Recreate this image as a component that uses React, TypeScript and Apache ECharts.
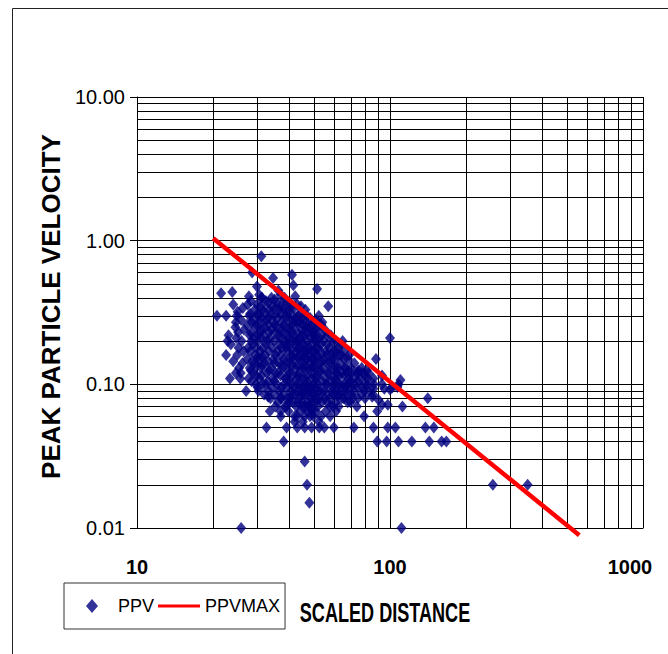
import React, { useEffect, useRef } from "react";
import * as echarts from "echarts";

// Minor gridline positions (log axes, 2..9 per decade)
const X_MINOR = [20, 30, 40, 50, 60, 70, 80, 90, 200, 300, 400, 500, 600, 700, 800, 900];
const Y_MINOR = [
  0.02, 0.03, 0.04, 0.05, 0.06, 0.07, 0.08, 0.09,
  0.2, 0.3, 0.4, 0.5, 0.6, 0.7, 0.8, 0.9,
  2, 3, 4, 5, 6, 7, 8, 9,
];

const SERIES_NAMES = ["PPV", "PPVMAX"];

// PPVMAX line: [scaled distance, ppv]
const PPVMAX_LINE: [number, number][] = [
  [20, 1.04],
  [560, 0.0089],
];

// PPV observations: [scaled distance, ppv]
const PPV_POINTS: [number, number][] = [
  [20.7, 0.30], [21.5, 0.43], [23.8, 0.44], [22.5, 0.30], [22.5, 0.16], [24, 0.145], [23.3, 0.11], [25.6, 0.11], [27, 0.09], [25.8, 0.01],
  [31, 0.78], [28.5, 0.60], [34.5, 0.55], [41, 0.58], [41.5, 0.49], [51.5, 0.46], [57, 0.35], [44.5, 0.35], [54, 0.27], [27.7, 0.41],
  [29.8, 0.48], [31, 0.40], [34, 0.40], [24, 0.36], [25, 0.32], [23, 0.22], [23.5, 0.19], [24.5, 0.25], [22.8, 0.20],
  [50, 0.23], [65, 0.20], [61, 0.20], [64, 0.19], [66, 0.17], [69, 0.16], [88, 0.15], [100, 0.21], [67, 0.13], [61, 0.13],
  [74, 0.12], [78, 0.12], [75, 0.125], [81, 0.125], [82, 0.11], [93, 0.115], [93, 0.10], [108, 0.10], [100, 0.092], [107, 0.096],
  [110, 0.107], [102, 0.095], [95, 0.093], [86, 0.093], [85, 0.082], [90, 0.078], [67, 0.095], [62, 0.083],
  [112, 0.07], [98, 0.072], [93, 0.072], [89, 0.065], [79, 0.06], [74, 0.07], [68, 0.075], [61, 0.075], [58, 0.07], [58, 0.06],
  [141, 0.08], [60, 0.05], [72, 0.05], [86, 0.05], [98, 0.05], [105, 0.05], [138, 0.05], [149, 0.05],
  [89, 0.04], [97, 0.04], [108, 0.04], [122, 0.04], [143, 0.04], [160, 0.04], [167, 0.04],
  [255, 0.02], [350, 0.02], [111, 0.01],
  [46, 0.029], [47, 0.02], [48, 0.015], [38, 0.04],
  [32.5, 0.05], [33, 0.082], [33.5, 0.065], [37, 0.06], [39, 0.05], [43, 0.05], [42, 0.055], [46, 0.05], [49, 0.05], [52.5, 0.05],
  [55, 0.05], [49, 0.068], [45, 0.075], [40, 0.075], [37, 0.08],
  [26.2, 0.34], [25.8, 0.28], [26.5, 0.24], [25.9, 0.20], [26.4, 0.17], [26.1, 0.14], [25.7, 0.12],
  [27.4, 0.36], [27.8, 0.30], [27.2, 0.26], [27.9, 0.22], [27.5, 0.18], [27.3, 0.15], [27.9, 0.13], [27.6, 0.11],
  [29.2, 0.33], [28.8, 0.28], [29.4, 0.25], [29.0, 0.21], [28.7, 0.19], [29.3, 0.16], [29.1, 0.14], [28.9, 0.12], [29.5, 0.10],
  [30.4, 0.42], [30.8, 0.35], [30.2, 0.30], [30.9, 0.27], [30.5, 0.23], [30.1, 0.20], [30.7, 0.17], [30.3, 0.15], [30.9, 0.13], [30.5, 0.11], [30.2, 0.09],
  [32.3, 0.38], [31.8, 0.32], [32.5, 0.28], [32.0, 0.25], [31.7, 0.22], [32.4, 0.19], [32.1, 0.16], [31.9, 0.14], [32.6, 0.12], [32.2, 0.10], [31.8, 0.085],
  [34.2, 0.35], [33.8, 0.31], [34.5, 0.27], [34.0, 0.24], [33.6, 0.21], [34.3, 0.18], [34.6, 0.15], [33.9, 0.13], [34.4, 0.11], [34.1, 0.095], [33.7, 0.08],
  [36.2, 0.45], [35.8, 0.37], [36.5, 0.33], [36.0, 0.29], [35.6, 0.25], [36.3, 0.22], [36.6, 0.19], [35.9, 0.17], [36.4, 0.14], [36.1, 0.12], [35.7, 0.10], [36.5, 0.09], [36.0, 0.075],
  [38.3, 0.40], [37.8, 0.34], [38.6, 0.30], [38.0, 0.26], [37.6, 0.23], [38.4, 0.20], [38.7, 0.18], [38.1, 0.15], [37.7, 0.13], [38.5, 0.11], [38.2, 0.10], [37.9, 0.085], [38.4, 0.07],
  [40.3, 0.37], [39.7, 0.32], [40.5, 0.28], [40.0, 0.24], [39.6, 0.21], [40.4, 0.19], [40.8, 0.16], [39.9, 0.14], [40.2, 0.12], [39.8, 0.105], [40.6, 0.09], [40.1, 0.08], [39.7, 0.065],
  [42.2, 0.41], [41.7, 0.34], [42.5, 0.29], [42.0, 0.26], [41.6, 0.22], [42.4, 0.20], [42.8, 0.17], [41.9, 0.15], [42.3, 0.13], [42.7, 0.11], [41.8, 0.095], [42.2, 0.085], [42.6, 0.07], [42.0, 0.06],
  [44.2, 0.31], [43.8, 0.27], [44.6, 0.24], [44.0, 0.21], [43.6, 0.18], [44.4, 0.16], [44.8, 0.14], [43.9, 0.12], [44.3, 0.10], [44.7, 0.09], [43.8, 0.08], [44.2, 0.065],
  [46.3, 0.33], [45.8, 0.28], [46.6, 0.25], [46.0, 0.22], [45.6, 0.19], [46.4, 0.17], [46.9, 0.15], [45.9, 0.13], [46.2, 0.11], [46.7, 0.10], [45.8, 0.085], [46.4, 0.07], [46.0, 0.06],
  [48.3, 0.29], [47.8, 0.25], [48.6, 0.21], [48.0, 0.18], [47.6, 0.16], [48.4, 0.14], [48.9, 0.12], [47.9, 0.10], [48.2, 0.09], [48.7, 0.08], [47.8, 0.07], [48.3, 0.06],
  [50.3, 0.27], [49.7, 0.22], [50.6, 0.20], [50.0, 0.17], [49.6, 0.15], [50.4, 0.13], [50.9, 0.11], [49.9, 0.10], [50.2, 0.085], [50.7, 0.075], [49.8, 0.06],
  [52.3, 0.30], [51.7, 0.25], [52.6, 0.21], [52.0, 0.18], [51.6, 0.16], [52.5, 0.14], [52.9, 0.12], [51.9, 0.10], [52.2, 0.09], [52.8, 0.08], [51.8, 0.07], [52.4, 0.055],
  [55.3, 0.24], [54.6, 0.20], [55.6, 0.17], [55.0, 0.15], [54.5, 0.13], [55.5, 0.11], [55.9, 0.10], [54.8, 0.09], [55.2, 0.08], [55.7, 0.065],
  [58.3, 0.22], [57.6, 0.18], [58.6, 0.16], [58.0, 0.14], [57.5, 0.12], [58.5, 0.105], [58.9, 0.09], [57.8, 0.08],
  [61.3, 0.17], [60.6, 0.15], [61.6, 0.12], [61.0, 0.11], [60.5, 0.10], [61.5, 0.09], [61.2, 0.065],
  [64.3, 0.16], [63.6, 0.14], [64.6, 0.12], [64.0, 0.10], [63.5, 0.09], [64.5, 0.08],
  [68.3, 0.15], [67.6, 0.12], [68.6, 0.11], [68.0, 0.10], [67.5, 0.085],
  [72.3, 0.14], [71.6, 0.11], [72.6, 0.10], [72.0, 0.09], [71.5, 0.08],
  [77.3, 0.13], [76.5, 0.11], [77.6, 0.095], [77.0, 0.085],
  [82.3, 0.12], [81.6, 0.10], [82.6, 0.09],
  [24.8, 0.30], [24.6, 0.27], [25.1, 0.23], [24.7, 0.21], [25.2, 0.18], [24.9, 0.16], [25.3, 0.13], [24.6, 0.12],
  [28.2, 0.38], [28.0, 0.31], [28.4, 0.27], [28.1, 0.23], [28.3, 0.20], [28.0, 0.17], [28.5, 0.145], [28.2, 0.125], [28.4, 0.105],
  [29.8, 0.36], [30.0, 0.31], [29.7, 0.26], [29.9, 0.22], [29.6, 0.18], [30.0, 0.155], [29.8, 0.135], [29.7, 0.115], [30.0, 0.095],
  [31.2, 0.40], [31.4, 0.33], [31.1, 0.29], [31.3, 0.24], [31.0, 0.21], [31.4, 0.18], [31.2, 0.155], [31.3, 0.135], [31.1, 0.115], [31.4, 0.10],
  [33.0, 0.37], [33.2, 0.33], [32.9, 0.29], [33.1, 0.26], [33.3, 0.23], [32.8, 0.20], [33.2, 0.17], [33.0, 0.145], [33.3, 0.125], [32.9, 0.105], [33.1, 0.09],
  [35.0, 0.39], [35.2, 0.34], [34.9, 0.30], [35.1, 0.26], [35.3, 0.23], [34.8, 0.20], [35.2, 0.16], [35.0, 0.14], [35.3, 0.12], [34.9, 0.105], [35.1, 0.085], [35.2, 0.07],
  [37.0, 0.42], [37.2, 0.36], [36.9, 0.31], [37.1, 0.27], [37.3, 0.24], [36.8, 0.21], [37.2, 0.18], [37.0, 0.16], [37.3, 0.135], [36.9, 0.115], [37.1, 0.095], [37.2, 0.08], [36.9, 0.065],
  [39.0, 0.38], [39.2, 0.33], [38.9, 0.29], [39.1, 0.25], [39.3, 0.22], [38.8, 0.19], [39.2, 0.17], [39.0, 0.145], [39.3, 0.125], [38.9, 0.11], [39.1, 0.095], [39.2, 0.08], [38.9, 0.07],
  [41.0, 0.35], [41.2, 0.30], [40.9, 0.26], [41.1, 0.23], [41.3, 0.20], [40.8, 0.175], [41.2, 0.155], [41.0, 0.135], [41.3, 0.115], [40.9, 0.10], [41.1, 0.085], [41.2, 0.075],
  [43.0, 0.36], [43.2, 0.30], [42.9, 0.27], [43.1, 0.23], [43.3, 0.20], [42.8, 0.18], [43.2, 0.155], [43.0, 0.135], [43.3, 0.115], [42.9, 0.10], [43.1, 0.09], [43.2, 0.075], [42.9, 0.06],
  [45.0, 0.29], [45.2, 0.26], [44.9, 0.22], [45.1, 0.19], [45.3, 0.17], [44.8, 0.15], [45.2, 0.13], [45.0, 0.11], [45.3, 0.095], [44.9, 0.085], [45.1, 0.07], [45.2, 0.055],
  [47.0, 0.30], [47.2, 0.26], [46.9, 0.23], [47.1, 0.20], [47.3, 0.17], [46.8, 0.15], [47.2, 0.13], [47.0, 0.115], [47.3, 0.095], [46.9, 0.085], [47.1, 0.075], [47.2, 0.065],
  [49.0, 0.26], [49.2, 0.23], [48.9, 0.19], [49.1, 0.17], [49.3, 0.15], [48.8, 0.13], [49.2, 0.11], [49.0, 0.095], [49.3, 0.085], [48.9, 0.075], [49.1, 0.065],
  [51.0, 0.28], [51.2, 0.24], [50.9, 0.21], [51.1, 0.18], [51.3, 0.155], [50.8, 0.135], [51.2, 0.115], [51.0, 0.095], [51.3, 0.08], [50.9, 0.065],
  [53.5, 0.26], [53.7, 0.22], [53.3, 0.19], [53.6, 0.165], [53.8, 0.145], [53.2, 0.125], [53.7, 0.105], [53.5, 0.09], [53.8, 0.075], [53.4, 0.06],
  [56.5, 0.22], [56.7, 0.19], [56.3, 0.16], [56.6, 0.14], [56.8, 0.12], [56.2, 0.10], [56.7, 0.085], [56.5, 0.075],
  [59.5, 0.20], [59.7, 0.17], [59.3, 0.15], [59.6, 0.13], [59.8, 0.11], [59.2, 0.095], [59.7, 0.085], [59.5, 0.07],
  [62.5, 0.18], [62.7, 0.16], [62.3, 0.13], [62.6, 0.115], [62.8, 0.10], [62.2, 0.085], [62.7, 0.07],
  [66.0, 0.15], [66.3, 0.13], [65.8, 0.115], [66.2, 0.10], [66.4, 0.09], [65.7, 0.08],
  [70.0, 0.13], [70.3, 0.12], [69.7, 0.105], [70.2, 0.095], [70.4, 0.085], [69.8, 0.075],
  [74.5, 0.12], [74.8, 0.105], [74.2, 0.095], [74.7, 0.08],
  [79.5, 0.115], [79.8, 0.10], [79.2, 0.09], [79.7, 0.08],
  [86.0, 0.11], [86.4, 0.10], [85.7, 0.085],
];

const SANS = "'Liberation Sans', Arial, sans-serif";

export default function App() {
  const ref = useRef<HTMLDivElement>(null);

  useEffect(() => {
    document.body.style.margin = "0";
    const chart = echarts.init(ref.current!, null, { renderer: "svg" });

    const gridLines = [
      ...X_MINOR.map((v) => ({ xAxis: v })),
      ...Y_MINOR.map((v) => ({ yAxis: v })),
    ];

    chart.setOption({
      animation: false,
      backgroundColor: "#ffffff",
      grid: { left: 137, top: 97, width: 506, height: 431 },
      xAxis: {
        type: "log",
        logBase: 10,
        min: 10,
        max: 1000,
        axisLine: { show: true, onZero: false, lineStyle: { color: "#000", width: 1 } },
        axisTick: { show: false },
        splitLine: { show: true, lineStyle: { color: "#000", width: 1 } },
        axisLabel: {
          margin: 29,
          color: "#000",
          fontFamily: SANS,
          fontSize: 20,
          fontWeight: "bold",
          formatter: (v: number) => {
            const r = Math.round(v);
            return r >= 1000 ? `{m|${r}}` : `${r}`;
          },
          rich: {
            m: {
              color: "#000",
              fontFamily: SANS,
              fontSize: 20,
              fontWeight: "bold",
              padding: [0, 26, 0, 0],
            },
          },
        },
      },
      yAxis: {
        type: "log",
        logBase: 10,
        min: 0.01,
        max: 10,
        axisLine: { show: true, onZero: false, lineStyle: { color: "#000", width: 1 } },
        axisTick: { show: true, length: 7, lineStyle: { color: "#000", width: 1 } },
        splitLine: { show: true, lineStyle: { color: "#000", width: 1 } },
        axisLabel: {
          margin: 12,
          color: "#000",
          fontFamily: SANS,
          fontSize: 20,
          formatter: (v: number) => v.toFixed(2),
        },
        name: "PEAK PARTICLE VELOCITY",
        nameLocation: "middle",
        nameGap: 42,
        nameTextStyle: {
          color: "#000",
          fontFamily: SANS,
          fontSize: 26,
          fontWeight: "bold",
          padding: [0, 0, 0, 12],
        },
      },
      legend: {
        left: 64,
        top: 583,
        orient: "horizontal",
        itemWidth: 42,
        itemHeight: 14,
        itemGap: 4,
        padding: [14, 5, 14, 22],
        borderColor: "#333",
        borderWidth: 1,
        backgroundColor: "#fff",
        symbolKeepAspect: true,
        textStyle: { color: "#000", fontFamily: SANS, fontSize: 18 },
        data: [
          { name: SERIES_NAMES[0], icon: "path://M6,0 L12,7 L6,14 L0,7 Z" },
          { name: SERIES_NAMES[1], icon: "path://M0,0 L42,0 L42,3 L0,3 Z" },
        ],
      },
      graphic: [
        {
          type: "rect",
          silent: true,
          z: -10,
          shape: { x: 12.5, y: 8.5, width: 700, height: 700 },
          style: { fill: "none", stroke: "#222", lineWidth: 1 },
        },
        {
          type: "text",
          silent: true,
          x: 385,
          y: 613,
          scaleX: 0.67,
          style: {
            text: "SCALED DISTANCE",
            fill: "#000",
            fontFamily: SANS,
            fontSize: 27,
            fontWeight: "bold",
            textAlign: "center",
            textVerticalAlign: "middle",
          },
        },
      ],
      series: [
        {
          type: "scatter",
          name: SERIES_NAMES[0],
          data: PPV_POINTS,
          symbol: "diamond",
          symbolSize: [10, 12],
          itemStyle: { color: "#000080" },
          z: 3,
          silent: true,
          markLine: {
            silent: true,
            z: 1,
            symbol: ["none", "none"],
            label: { show: false },
            emphasis: { disabled: true },
            lineStyle: { color: "#000", width: 1, type: "solid" },
            data: gridLines,
          },
        },
        {
          type: "line",
          name: SERIES_NAMES[1],
          data: PPVMAX_LINE,
          symbol: "none",
          showSymbol: false,
          clip: false,
          silent: true,
          z: 4,
          itemStyle: { color: "#ff0000" },
          lineStyle: { color: "#ff0000", width: 4.5 },
        },
      ],
    });

    return () => chart.dispose();
  }, []);

  return <div ref={ref} style={{ width: 668, height: 654 }} />;
}
